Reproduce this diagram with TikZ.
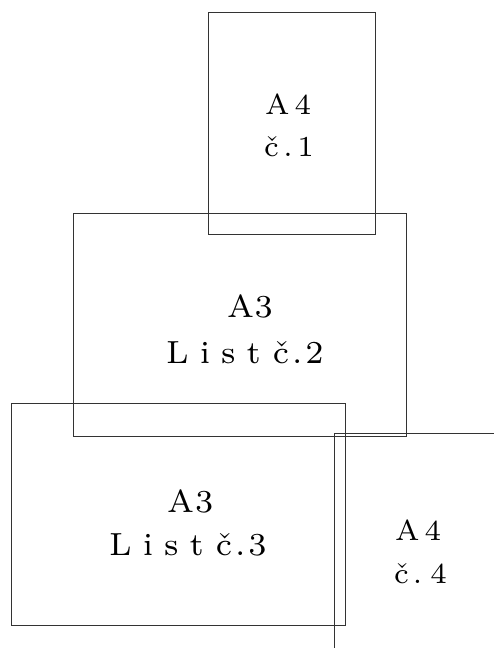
\documentclass[tikz,border=0pt]{standalone}
\usepackage{fontspec}
\newfontfamily\sheetfont{lmroman7-regular}[Extension=.otf]
\usetikzlibrary{positioning}
\tikzset{
    sheet/.style = {draw=black!80, line width=.7pt, inner sep=0pt, outer sep=0pt},
    sheetline/.style = {draw=black!80, line width=.7pt},
    sheetlabel/.style = {anchor=base west, inner sep=0pt},
    smalltext/.style = {font=\sheetfont\fontsize{29}{34}\selectfont},
    bigtext/.style = {font=\sheetfont\fontsize{32}{38}\selectfont}
}
% letters set apart by a fixed gap
\newcommand\spread[2]{\def\spreadgap{#1}\spreadfirst#2\relax}
\def\spreadfirst#1{\ifx\relax#1\else#1\expandafter\spreadnext\fi}
\def\spreadnext#1{\ifx\relax#1\else\kern\spreadgap\relax#1\expandafter\spreadnext\fi}

\begin{document}
\begin{tikzpicture}[x=1pt, y=-1pt]
    \useasboundingbox (0,0) rectangle (494,650);

    \node[sheet, minimum width=167pt, minimum height=222pt] (sheet-1) at (291.5,123) {};
    \node[sheet, minimum width=333pt, minimum height=223pt] (sheet-2) at (239.5,324.5) {};
    \node[sheet, minimum width=334pt, minimum height=222pt] (sheet-3) at (178,514) {};
    % fourth sheet runs off the page
    \coordinate (sheet-4) at (334,433);
    \coordinate (sheet-4-right) at (494,433);
    \coordinate (sheet-4-foot) at (334,648);
    \draw[sheetline] (sheet-4-right) -- (sheet-4) -- (sheet-4-foot);

    \foreach \Name/\Pos/\Size/\Text in {%
        1-a/{265,115}/smalltext/{\spread{5pt}{A4}},
        1-b/{264,157}/smalltext/{\spread{4.5pt}{č.1}},
        2-a/{227,317}/bigtext/{\spread{0.5pt}{A3}},
        2-b/{166,363}/bigtext/{\spread{11pt}{List}\kern12pt\spread{3pt}{č.2}},
        3-a/{167,512}/bigtext/{\spread{1pt}{A3}},
        3-b/{109,555}/bigtext/{\spread{11pt}{List}\kern12pt\spread{3pt}{č.3}},
        4-a/{395,540}/smalltext/{\spread{5pt}{A4}},
        4-b/{394,583}/smalltext/{\spread{4pt}{č.}\kern8pt 4}}
            \node[sheetlabel, \Size] (label-\Name) at (\Pos) {\Text};
\end{tikzpicture}
\end{document}
